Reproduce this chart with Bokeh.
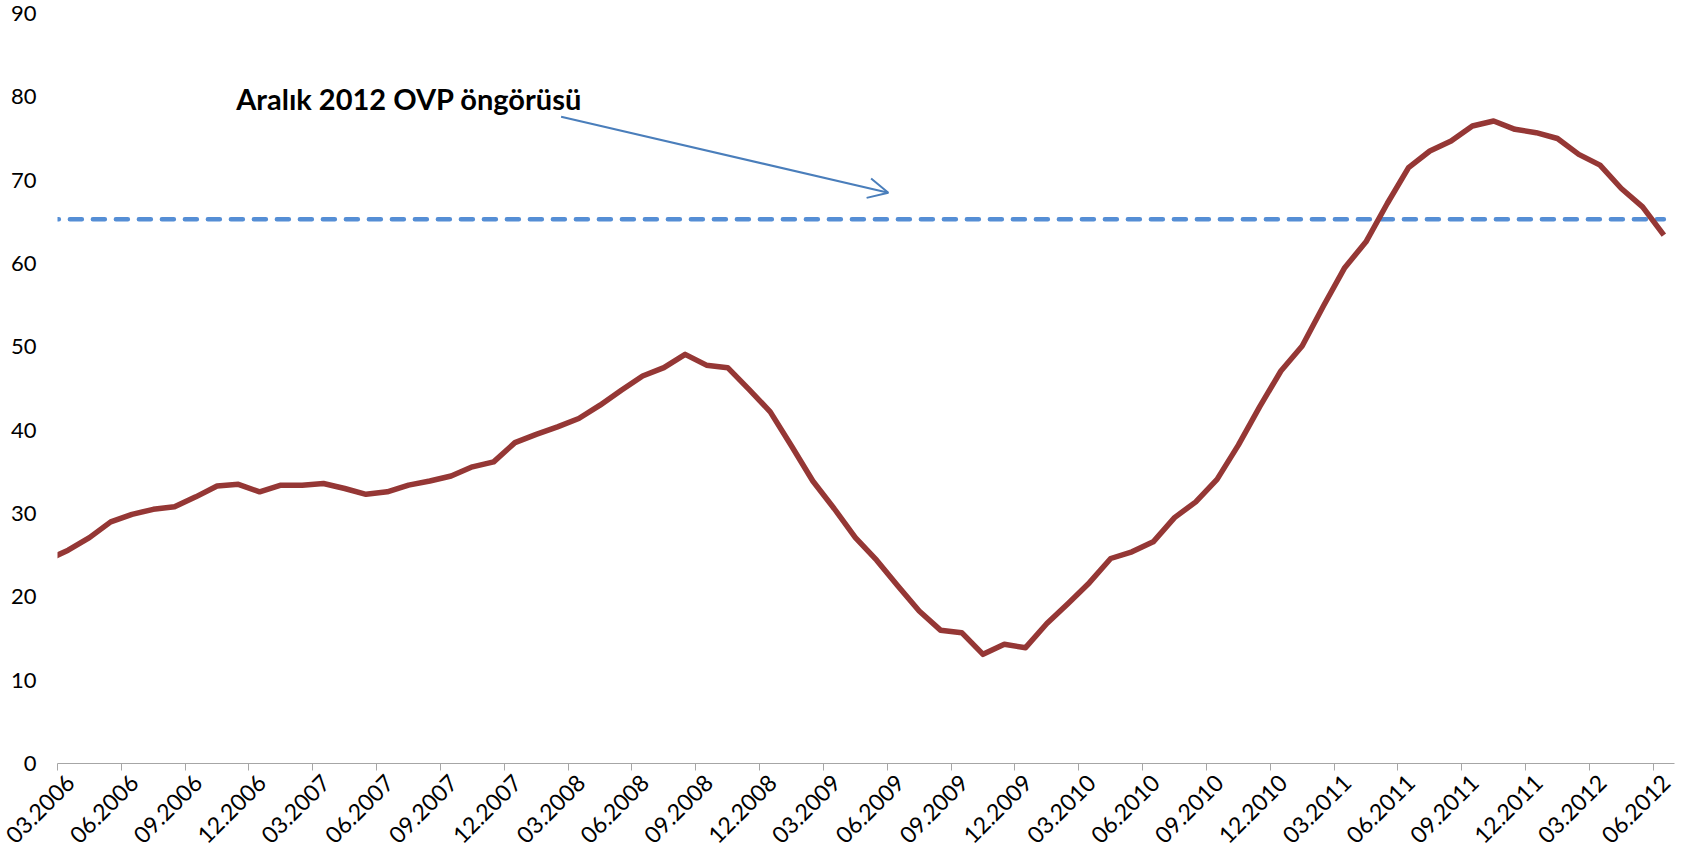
import numpy as np
from bokeh.plotting import figure
from bokeh.models import FixedTicker, Range1d, Label, Arrow, OpenHead, ColumnDataSource
from bokeh.embed import file_html
from bokeh.resources import INLINE

# ---- data ----
months = [
    "02.2006", "03.2006", "04.2006", "05.2006", "06.2006", "07.2006", "08.2006", "09.2006", "10.2006", "11.2006", "12.2006",
    "01.2007", "02.2007", "03.2007", "04.2007", "05.2007", "06.2007", "07.2007", "08.2007", "09.2007", "10.2007", "11.2007", "12.2007",
    "01.2008", "02.2008", "03.2008", "04.2008", "05.2008", "06.2008", "07.2008", "08.2008", "09.2008", "10.2008", "11.2008", "12.2008",
    "01.2009", "02.2009", "03.2009", "04.2009", "05.2009", "06.2009", "07.2009", "08.2009", "09.2009", "10.2009", "11.2009", "12.2009",
    "01.2010", "02.2010", "03.2010", "04.2010", "05.2010", "06.2010", "07.2010", "08.2010", "09.2010", "10.2010", "11.2010", "12.2010",
    "01.2011", "02.2011", "03.2011", "04.2011", "05.2011", "06.2011", "07.2011", "08.2011", "09.2011", "10.2011", "11.2011", "12.2011",
    "01.2012", "02.2012", "03.2012", "04.2012", "05.2012", "06.2012",
]
values = [
    24.4, 25.6, 27.1, 29.0, 29.9, 30.5, 30.8, 32.0, 33.3, 33.5, 32.6,
    33.4, 33.4, 33.6, 33.0, 32.3, 32.6, 33.4, 33.9, 34.5, 35.6, 36.2, 38.5,
    39.5, 40.4, 41.4, 43.0, 44.8, 46.5, 47.5, 49.1, 47.8, 47.5, 44.9, 42.2,
    38.1, 33.9, 30.6, 27.1, 24.4, 21.3, 18.3, 16.0, 15.7, 13.1, 14.3, 13.9,
    16.8, 19.2, 21.7, 24.6, 25.4, 26.6, 29.5, 31.4, 34.1, 38.2, 42.8, 47.1,
    50.1, 54.9, 59.5, 62.6, 67.2, 71.5, 73.5, 74.7, 76.5, 77.1, 76.1, 75.7,
    75.0, 73.1, 71.8, 69.0, 66.8, 63.4,
]
ovp_target = 65.3
first_shown = "03.2006"
tick_labels = ["03.2006", "06.2006", "09.2006", "12.2006", "03.2007", "06.2007", "09.2007", "12.2007",
               "03.2008", "06.2008", "09.2008", "12.2008", "03.2009", "06.2009", "09.2009", "12.2009",
               "03.2010", "06.2010", "09.2010", "12.2010", "03.2011", "06.2011", "09.2011", "12.2011",
               "03.2012", "06.2012"]
annotation_text = "Aralık 2012 OVP öngörüsü"
y_ticks = [0, 10, 20, 30, 40, 50, 60, 70, 80, 90]

# category slot positions (each month occupies one unit; point at slot centre)
start = months.index(first_shown)
x = np.arange(len(months)) - start + 0.5
n_slots = len(months) - start

src = ColumnDataSource(dict(x=x, y=values, t=[ovp_target] * len(values)))

FONT = "Lato"

p = figure(width=1690, height=854, output_backend="svg", toolbar_location=None,
           x_range=Range1d(0, n_slots), y_range=Range1d(0, 90),
           min_border_left=57, min_border_right=16, min_border_top=13, min_border_bottom=91)
p.outline_line_color = None
p.grid.grid_line_color = None
p.background_fill_color = "white"
p.border_fill_color = "white"

# OVP target dashed line
p.line("x", "t", source=src, line_color="#558ED5", line_width=4.5,
       line_dash="12 11", line_cap="round")
# main series
p.line("x", "y", source=src, line_color="#953735", line_width=5.5, line_join="round")

# x axis: labels anchored near each slot centre, tick marks at slot boundaries
label_shift = 0.6
label_pos = [months.index(m) - start + label_shift for m in tick_labels]
bound_pos = [months.index(m) - start for m in tick_labels]
xa = p.xaxis[0]
xa.ticker = FixedTicker(ticks=label_pos, minor_ticks=bound_pos)
xa.major_label_overrides = {lp: lab for lp, lab in zip(label_pos, tick_labels)}
xa.major_label_orientation = np.pi / 4
xa.major_tick_out = 0
xa.major_tick_in = 0
xa.minor_tick_out = 7
xa.minor_tick_in = 0
xa.minor_tick_line_color = "#A6A6A6"
xa.axis_line_color = "#A6A6A6"
xa.axis_line_width = 1
xa.major_label_text_font = FONT
xa.major_label_text_font_size = "23px"
xa.major_label_text_color = "#000000"
xa.major_label_standoff = 8

ya = p.yaxis[0]
ya.ticker = FixedTicker(ticks=y_ticks)
ya.axis_line_color = None
ya.major_tick_line_color = None
ya.minor_tick_line_color = None
ya.major_label_text_font = FONT
ya.major_label_text_font_size = "22px"
ya.major_label_text_color = "#000000"
ya.major_label_standoff = 15

p.add_layout(Label(x=8.4, y=79.8, text=annotation_text, text_font=FONT, text_font_style="bold",
                   text_font_size="29px", text_color="#000000", text_baseline="alphabetic"))
p.add_layout(Arrow(end=OpenHead(size=20, line_color="#4A7EBB", line_width=2),
                   x_start=23.67, y_start=77.6, x_end=39.05, y_end=68.5,
                   line_color="#4A7EBB", line_width=2))

open("out.html", "w").write(file_html(p, INLINE))
